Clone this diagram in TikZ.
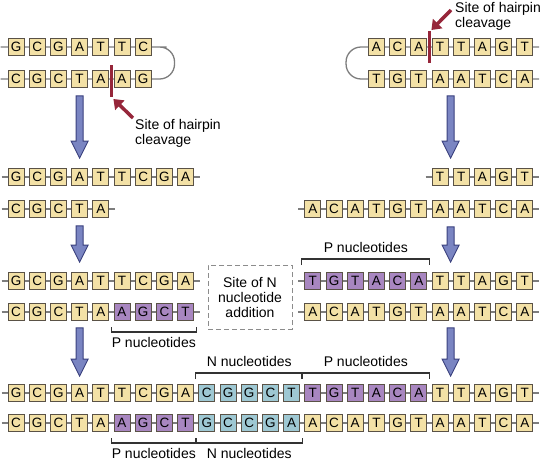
\documentclass[tikz,border=0pt]{standalone}
\usepackage{fontspec}
\setmainfont{Liberation Sans}
\usetikzlibrary{calc,backgrounds,arrows.meta}

\definecolor{ntyellow}{RGB}{243,225,166}
\definecolor{ntpurple}{RGB}{168,134,192}
\definecolor{ntblue}{RGB}{158,200,211}
\definecolor{boxline}{RGB}{90,82,70}
\definecolor{strand}{RGB}{125,125,125}
\definecolor{cutred}{RGB}{150,38,58}
\definecolor{stepfill}{RGB}{122,133,194}
\definecolor{stepline}{RGB}{58,64,125}

\tikzset{
  nt/.style={draw=boxline, line width=0.7pt, minimum width=16pt, minimum height=17pt, inner sep=0pt, font=\fontsize{13.5}{14}\selectfont},
  yel/.style={fill=ntyellow},
  pur/.style={fill=ntpurple},
  blu/.style={fill=ntblue},
  bb/.style={draw=strand, line width=1.3pt},
  lbl/.style={font=\fontsize{14}{15}\selectfont, inner sep=0pt},
  cutline/.style={draw=cutred, line width=2.2pt},
  cutarrow/.style={draw=cutred, line width=3.5pt, -{Triangle[length=9pt,width=13pt]}},
  stepa/.style={fill=stepfill, draw=stepline, line width=0.9pt, line join=miter},
  brk/.style={draw=black!80, line width=1.1pt},
  site/.style={draw=black!45, dash pattern=on 5pt off 3pt, line width=1pt, minimum width=84pt, minimum height=64pt, align=center, font=\fontsize{14}{15}\selectfont}
}

% one run of nucleotides: row name, y, first column, fill, letters
\newcommand{\ntrow}[5]{\foreach \ntl [count=\ntc from #3] in {#5} \node[nt,#4] (#1-\ntc) at ({16+21.2*\ntc},#2) {\ntl};}
% strand line behind a run
\newcommand{\backbone}[2]{\begin{pgfonlayer}{background}\draw[bb] ([xshift=-6pt]#1.west) -- ([xshift=6pt]#2.east);\end{pgfonlayer}}
% big step arrow between stages
\newcommand{\steparrow}[2]{\draw[stepa] ($(#1)+(-3.5,0)$) -- ($(#2)+(-3.5,-17)$) -- ($(#2)+(-8.5,-17)$) -- (#2) -- ($(#2)+(8.5,-17)$) -- ($(#2)+(3.5,-17)$) -- ($(#1)+(3.5,0)$) -- cycle;}
% bracket with label: first box, last box, tick start, line, name, text
\newcommand{\ntbracket}[6]{%
  \draw[brk] ($([xshift=-2.6pt]#1.west)+(0,#3)$) -- ($([xshift=-2.6pt]#1.west)+(0,#4)$) -| ($([xshift=2.6pt]#2.east)+(0,#3)$);
  \node[lbl] (#5) at ($([xshift=-2.6pt]#1.west)!.5!([xshift=2.6pt]#2.east)+(0,{#4+2*(#4-(#3))})$) {#6};}

\begin{document}
\begin{tikzpicture}[x=1pt,y=-1pt]
  \useasboundingbox (0,0) rectangle (541,466);

  % Hairpins
  \ntrow{r1}{47}{0}{yel}{G,C,G,A,T,T,C}
  \ntrow{r2}{79}{0}{yel}{C,G,C,T,A,A,G}
  \ntrow{r1}{47}{17}{yel}{A,C,A,T,T,A,G,T}
  \ntrow{r2}{79}{17}{yel}{T,G,T,A,A,T,C,A}
  \begin{pgfonlayer}{background}
    \draw[bb, rounded corners=15pt] ([xshift=-7pt]r1-0.west) -- (r1-6.east) -- ++(23,0) |- ([xshift=-7pt]r2-0.west);
    \draw[bb, rounded corners=15pt] ([xshift=6pt]r1-24.east) -- ([xshift=-22pt]r1-17.west) |- ([xshift=6pt]r2-24.east);
  \end{pgfonlayer}

  % Cleavage sites
  \coordinate (cutL) at ($(r2-4.east)!.5!(r2-5.west)$);
  \coordinate (cutR) at ($(r1-19.east)!.5!(r1-20.west)$);
  \draw[cutline] ($(cutL)+(0,-14)$) -- ($(cutL)+(0,18)$);
  \draw[cutline] ($(cutR)+(0,-16)$) -- ($(cutR)+(0,16)$);
  \node[lbl, anchor=north west, align=left] (hpL) at (135,119) {Site of hairpin\\cleavage};
  \node[lbl, anchor=north west, align=left] (hpR) at (455,2) {Site of hairpin\\cleavage};
  \draw[cutarrow] ($(hpL.north west)+(-2,-1)$) -- ($(cutL)+(2,20)$);
  \draw[cutarrow] ($(hpR.north west)+(-4,8)$) -- ($(cutR)+(2,-17)$);

  % Opened ends
  \ntrow{r3}{177}{0}{yel}{G,C,G,A,T,T,C,G,A}
  \ntrow{r4}{209}{0}{yel}{C,G,C,T,A}
  \ntrow{r3}{177}{20}{yel}{T,T,A,G,T}
  \ntrow{r4}{209}{14}{yel}{A,C,A,T,G,T,A,A,T,C,A}
  \backbone{r3-0}{r3-8} \backbone{r4-0}{r4-4}
  \backbone{r3-20}{r3-24} \backbone{r4-14}{r4-24}

  % P nucleotides filled in
  \ntrow{r5}{281}{0}{yel}{G,C,G,A,T,T,C,G,A}
  \ntrow{r6}{312}{0}{yel}{C,G,C,T,A}
  \ntrow{r6}{312}{5}{pur}{A,G,C,T}
  \ntrow{r5}{281}{14}{pur}{T,G,T,A,C,A}
  \ntrow{r5}{281}{20}{yel}{T,T,A,G,T}
  \ntrow{r6}{312}{14}{yel}{A,C,A,T,G,T,A,A,T,C,A}
  \backbone{r5-0}{r5-8} \backbone{r6-0}{r6-8}
  \backbone{r5-14}{r5-24} \backbone{r6-14}{r6-24}
  \ntbracket{r6-5}{r6-8}{15}{20}{pn1}{P nucleotides}
  \ntbracket{r5-14}{r5-19}{-16}{-22}{pn2}{P nucleotides}
  \node[site] (nsite) at (250,297) {Site of N\\nucleotide\\addition};

  % Joined coding ends
  \ntrow{r7}{393}{0}{yel}{G,C,G,A,T,T,C,G,A}
  \ntrow{r7}{393}{9}{blu}{C,G,G,C,T}
  \ntrow{r7}{393}{14}{pur}{T,G,T,A,C,A}
  \ntrow{r7}{393}{20}{yel}{T,T,A,G,T}
  \ntrow{r8}{423}{0}{yel}{C,G,C,T,A}
  \ntrow{r8}{423}{5}{pur}{A,G,C,T}
  \ntrow{r8}{423}{9}{blu}{G,C,C,G,A}
  \ntrow{r8}{423}{14}{yel}{A,C,A,T,G,T,A,A,T,C,A}
  \backbone{r7-0}{r7-24} \backbone{r8-0}{r8-24}
  \ntbracket{r7-9}{r7-13}{-14}{-20}{nn1}{N nucleotides}
  \ntbracket{r7-14}{r7-19}{-14}{-20}{pn3}{P nucleotides}
  \ntbracket{r8-5}{r8-8}{15}{20}{pn4}{P nucleotides}
  \ntbracket{r8-9}{r8-13}{15}{20}{nn2}{N nucleotides}

  % Step arrows
  \coordinate (a1s) at ($(r2-3.south)+(0,8)$);  \coordinate (a1e) at ($(r3-3.north)+(0,-10)$);
  \coordinate (a2s) at ($(r4-3.south)+(0,8)$);  \coordinate (a2e) at ($(r5-3.north)+(0,-10)$);
  \coordinate (a3s) at ($(r6-3.south)+(0,7)$);  \coordinate (a3e) at ($(r7-3.north)+(0,-8)$);
  \coordinate (b1s) at ($(r2-20.south)!.5!(r2-21.south)+(0,8)$);  \coordinate (b1e) at ($(r3-20.north)!.5!(r3-21.north)+(0,-10)$);
  \coordinate (b2s) at ($(r4-20.south)!.5!(r4-21.south)+(0,9)$);  \coordinate (b2e) at ($(r5-20.north)!.5!(r5-21.north)+(0,-10)$);
  \coordinate (b3s) at ($(r6-20.south)!.5!(r6-21.south)+(0,7)$);  \coordinate (b3e) at ($(r7-20.north)!.5!(r7-21.north)+(0,-8)$);
  \steparrow{a1s}{a1e} \steparrow{a2s}{a2e} \steparrow{a3s}{a3e}
  \steparrow{b1s}{b1e} \steparrow{b2s}{b2e} \steparrow{b3s}{b3e}
\end{tikzpicture}
\end{document}
